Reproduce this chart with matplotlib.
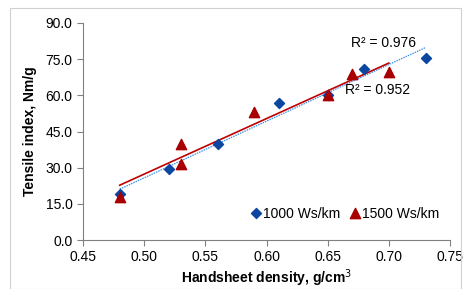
import matplotlib.pyplot as plt
import numpy as np
from matplotlib.patches import Rectangle

plt.rcParams['font.family'] = ['Liberation Sans', 'DejaVu Sans']

# 1000 Ws/km
x1 = [0.48, 0.52, 0.56, 0.61, 0.65, 0.68, 0.73]
y1 = [19.0, 29.5, 40.0, 57.0, 60.0, 71.0, 75.5]
# 1500 Ws/km
x2 = [0.48, 0.53, 0.53, 0.59, 0.65, 0.67, 0.70]
y2 = [18.0, 40.0, 31.5, 53.0, 60.0, 69.0, 69.5]

r2_1 = "R² = 0.976"
r2_2 = "R² = 0.952"

fig = plt.figure(figsize=(4.63, 2.89), dpi=100)
ax = fig.add_axes([83/463, 1-240/289, (450-83)/463, (240-23)/289])

# chart border
fig.patches.append(Rectangle((10/463, 0), 1-10/463-2/463, 1-8/289, transform=fig.transFigure,
                             fill=False, edgecolor='#d0d0d0', linewidth=0.8))

# trendlines
p1 = np.polyfit(x1, y1, 1)
p2 = np.polyfit(x2, y2, 1)
xx1 = np.array([min(x1), max(x1)])
xx2 = np.array([min(x2), max(x2)])
ax.plot(xx1, np.polyval(p1, xx1), color='#3a8ee6', linestyle=(0, (1.2, 0.8)), linewidth=0.9, zorder=2)
ax.plot(xx2, np.polyval(p2, xx2), color='#c00000', linewidth=1.2, zorder=2)

ax.scatter(x1, y1, marker='D', s=26, color='#0b46a0', zorder=3, label='1000 Ws/km')
ax.scatter(x2, y2, marker='^', s=55, color='#a80000', zorder=4, label='1500 Ws/km')

ax.text(0.669, 81.5, r2_1, fontsize=10, ha='left', va='center')
ax.text(0.664, 62.3, r2_2, fontsize=10, ha='left', va='center')

ax.set_xlim(0.45, 0.75)
ax.set_ylim(0, 90)
ax.set_xticks(np.arange(0.45, 0.751, 0.05))
ax.set_yticks(np.arange(0, 90.1, 15))
ax.set_xticklabels(['%.2f' % v for v in np.arange(0.45, 0.751, 0.05)], fontsize=10)
ax.set_yticklabels(['%.1f' % v for v in np.arange(0, 90.1, 15)], fontsize=10)
ax.tick_params(direction='out', length=4, color='#808080', width=0.8)
for s in ['top', 'right']:
    ax.spines[s].set_visible(False)
for s in ['left', 'bottom']:
    ax.spines[s].set_color('#808080')
    ax.spines[s].set_linewidth(0.8)

ax.set_xlabel('Handsheet density, g/cm$^3$', fontsize=10, fontweight='bold', labelpad=2)
ax.set_ylabel('Tensile index, Nm/g', fontsize=10, fontweight='bold', labelpad=6)

ax.legend(loc='center left', bbox_to_anchor=((249-83)/367, 0.12), ncol=2, frameon=False, fontsize=10,
          handletextpad=0.0, columnspacing=0.6, handlelength=1.0, borderaxespad=0, borderpad=0,
          scatteryoffsets=[0.5])

fig.savefig('out.png', dpi=100)
